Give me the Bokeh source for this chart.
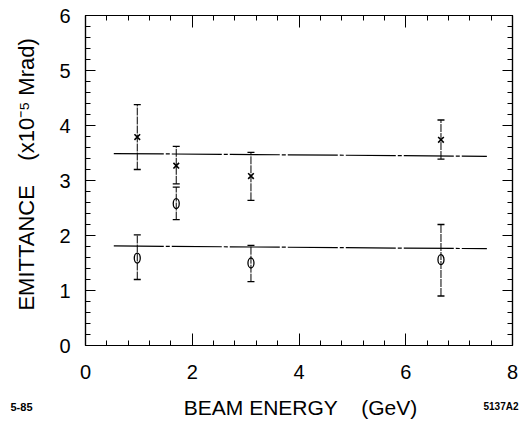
from bokeh.plotting import figure
from bokeh.layouts import column
from bokeh.models import (LinearAxis, SingleIntervalTicker, Range1d, Whisker, TeeHead,
                          ColumnDataSource)
from bokeh.core.properties import value
from bokeh.embed import file_html
from bokeh.resources import INLINE

# data
x_energy = [0.97, 1.70, 3.10, 6.66]
cross_y = [3.79, 3.27, 3.08, 3.74]
cross_hi = [4.38, 3.62, 3.51, 4.10]
cross_lo = [3.20, 2.94, 2.64, 3.39]
circ_y = [1.59, 2.58, 1.50, 1.56]
circ_hi = [2.01, 2.88, 1.82, 2.20]
circ_lo = [1.20, 2.29, 1.16, 0.90]
fit_x = [0.53, 7.52]
fit_upper = [3.49, 3.44]
fit_lower = [1.81, 1.76]

FONT = "Liberation Sans"
SP = "\u00a0"
X_LABEL = "BEAM" + SP + "ENERGY" + SP * 4 + "(GeV)"
Y_LABEL = SP * 2 + "EMITTANCE" + SP * 4 + "(x10\u207b\u2075" + SP + "Mrad)"
NOTE_LEFT = "5-85"
NOTE_RIGHT = "5137A2"

p = figure(width=526, height=395, output_backend="svg", toolbar_location=None,
           x_range=Range1d(0, 8), y_range=Range1d(0, 6),
           x_axis_location=None, y_axis_location=None,
           min_border_left=85, min_border_right=14, min_border_top=15, min_border_bottom=50)
p.frame_align = False
p.grid.visible = False
p.outline_line_color = "black"
p.outline_line_width = 1.2
p.background_fill_color = "white"
p.border_fill_color = "white"


def mk_axis(kind, loc, labels):
    if kind == "x":
        t = SingleIntervalTicker(interval=2, num_minor_ticks=5)
    else:
        t = SingleIntervalTicker(interval=1, num_minor_ticks=5)
    ax = LinearAxis(ticker=t)
    ax.axis_line_color = "black"
    ax.axis_line_width = 1.2
    ax.major_tick_in = 12 if kind == "x" else 10
    ax.major_tick_out = 0
    ax.minor_tick_in = 5
    ax.minor_tick_out = 0
    ax.major_tick_line_color = "black"
    ax.minor_tick_line_color = "black"
    if labels:
        ax.major_label_text_font = FONT
        ax.major_label_text_font_size = "20px"
        ax.major_label_text_color = "black"
        ax.major_label_standoff = 19 if kind == "x" else 15
        if kind == "y":
            ax.axis_label = Y_LABEL
            ax.axis_label_text_font = FONT
            ax.axis_label_text_font_size = "22px"
            ax.axis_label_text_font_style = "normal"
            ax.axis_label_text_color = "black"
            ax.axis_label_standoff = 17
    else:
        ax.major_label_overrides = {i: "" for i in range(0, 9)}
        ax.major_label_text_font_size = "1px"
    p.add_layout(ax, loc)


mk_axis("x", "below", True)
mk_axis("x", "above", False)
mk_axis("y", "left", True)
mk_axis("y", "right", False)

# fitted lines
p.line(fit_x, fit_upper, line_color="black", line_width=1.2, line_dash="50 2 4 2")
p.line(fit_x, fit_lower, line_color="black", line_width=1.2, line_dash="50 2 4 2")

# error bars
src_c = ColumnDataSource(dict(x=x_energy, lo=cross_lo, hi=cross_hi))
src_o = ColumnDataSource(dict(x=x_energy, lo=circ_lo, hi=circ_hi))
for src in (src_c, src_o):
    w = Whisker(source=src, base="x", upper="hi", lower="lo", dimension="height",
                line_color="black", line_width=1.0, line_dash="8 1",
                upper_head=TeeHead(size=7, line_color="black", line_width=1.3),
                lower_head=TeeHead(size=7, line_color="black", line_width=1.3))
    p.add_layout(w)

# markers
p.scatter(x_energy, cross_y, marker="x", size=8, line_color="black", line_width=1.6)
p.ellipse(x=x_energy, y=circ_y, width=6, height=10, width_units="screen",
          height_units="screen", fill_color=None, line_color="black", line_width=1.3)

# bottom strip: x-axis title and corner notes
s = figure(width=526, height=30, output_backend="svg", toolbar_location=None,
           x_range=Range1d(0, 526), y_range=Range1d(0, 30),
           x_axis_location=None, y_axis_location=None,
           min_border_left=0, min_border_right=0, min_border_top=0, min_border_bottom=0)
s.frame_align = False
s.grid.visible = False
s.outline_line_color = None
s.background_fill_color = "white"
s.border_fill_color = "white"
s.text(x=[300], y=[18], text=[X_LABEL], text_font=value(FONT), text_font_size="21px",
       text_align="center", text_baseline="middle", text_color="black")
s.text(x=[10], y=[19], text=[NOTE_LEFT], text_font=value(FONT), text_font_size="11px",
       text_font_style="bold", text_align="left", text_baseline="middle", text_color="black")
s.text(x=[483], y=[19], text=[NOTE_RIGHT], text_font=value(FONT), text_font_size="10px",
       text_font_style="bold", text_align="left", text_baseline="middle", text_color="black")

layout = column(p, s, spacing=0)
open("out.html", "w").write(file_html(layout, INLINE))
